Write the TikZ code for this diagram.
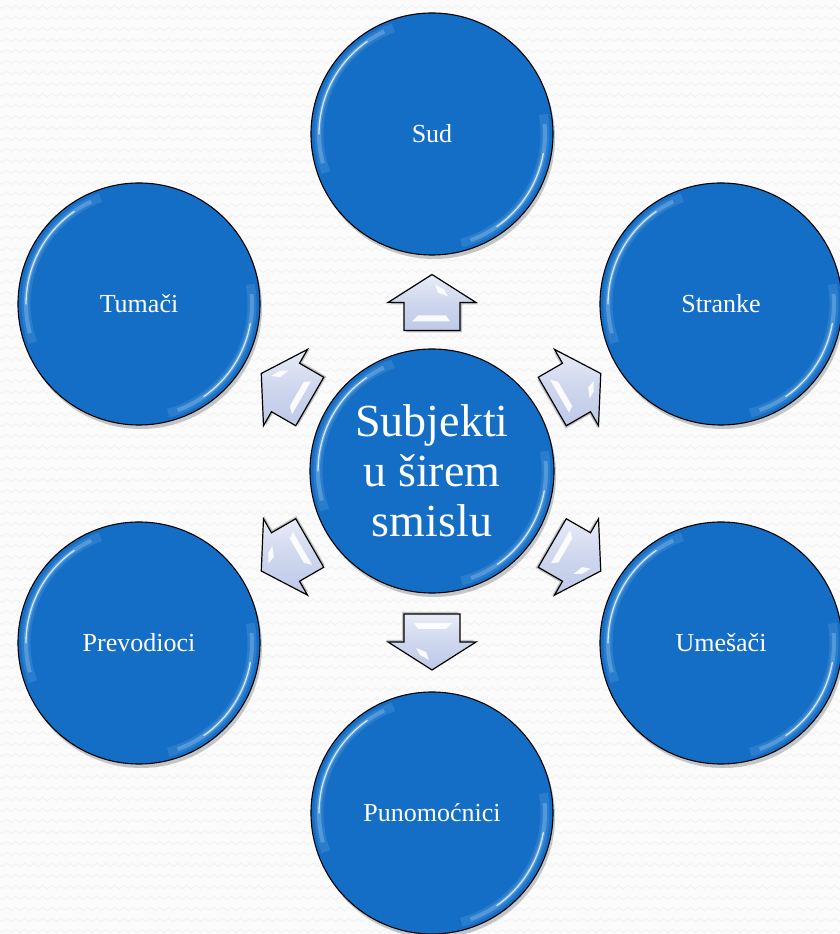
\documentclass[tikz,border=0pt]{standalone}
\usepackage{fontspec}
\setmainfont{Liberation Serif}
\usetikzlibrary{shadows,calc,decorations.pathmorphing}
\definecolor{circblue}{RGB}{20,110,198}
\definecolor{arrowfill}{RGB}{190,201,232}
\definecolor{bgbase}{RGB}{251,251,251}
\definecolor{bgwave}{RGB}{240,240,240}
\definecolor{glowblue}{RGB}{190,228,255}
\tikzset{
  bubble/.style={circle, draw=black, line width=1.1pt, fill=circblue, minimum size=242pt,
    inner sep=0pt, text=white, font=\fontsize{26}{30}\selectfont,
    drop shadow={shadow xshift=2pt, shadow yshift=-4pt, opacity=0.3, fill=black!70}},
  hub/.style={bubble, minimum size=244pt, font=\fontsize{46}{50}\selectfont, align=center},
  rimwide/.style={glowblue, opacity=0.13, line width=9pt, line cap=butt},
  rimglow/.style={glowblue, opacity=0.28, line width=4pt, line cap=butt},
  rimshine/.style={white, opacity=0.75, line width=1.3pt, line cap=round},
  pics/barrow/.style={code={
    \fill[black!50, opacity=0.45] (2,26) -- (46,-2) -- (30,-2) -- (30,-30) -- (-26,-30) -- (-26,-2) -- (-42,-2) -- cycle;
    \draw[black, line width=1.2pt, line join=miter, top color=arrowfill!35, bottom color=arrowfill, middle color=arrowfill!75]
      (0,28) -- (44,0) -- (28,0) -- (28,-28) -- (-28,-28) -- (-28,0) -- (-44,0) -- cycle;
    \fill[white, opacity=0.9] (3,18) -- (12,13) -- (16,6) -- (6,10) -- cycle;
    \fill[white, opacity=0.9] (-14,-13) -- (14,-13) -- (18,-19) -- (-20,-19) -- cycle;
  }}
}
\newcommand{\rimlights}[2]{%
  \draw[rimwide] ($(#1)+(110:#2)$) arc (110:200:#2);
  \draw[rimglow] ($(#1)+(115:#2)$) arc (115:195:#2);
  \draw[rimshine] ($(#1)+(125:#2)$) arc (125:180:#2);
  \draw[rimwide] ($(#1)+(285:#2)$) arc (285:370:#2);
  \draw[rimglow] ($(#1)+(290:#2)$) arc (290:365:#2);
  \draw[rimshine] ($(#1)+(305:#2)$) arc (305:350:#2);
}
\begin{document}
\begin{tikzpicture}[x=1pt,y=1pt]
  \useasboundingbox (0,0) rectangle (840,934);
  \fill[bgbase] (0,0) rectangle (840,934);
  \begin{scope}
    \clip (0,0) rectangle (840,934);
    \foreach \y in {3,14,...,940}
      \draw[bgwave, line width=0.7pt, decorate, decoration={snake, segment length=9pt, amplitude=1.6pt}] (-5,\y) -- (850,\y);
  \end{scope}

  % nodes
  \node[hub] (c) at (432,463) {Subjekti\\u širem\\smislu};
  \node[bubble] (sud) at (432,800) {Sud};
  \node[bubble] (str) at (721,630) {Stranke};
  \node[bubble] (tum) at (139,630) {Tumači};
  \node[bubble] (ume) at (721,291) {Umešači};
  \node[bubble] (pre) at (139,291) {Prevodioci};
  \node[bubble] (pun) at (432,121) {Punomoćnici};

  \rimlights{c}{114}
  \foreach \n in {sud,str,tum,ume,pre,pun} { \rimlights{\n}{113} }

  % block arrows
  \pic[rotate=0]    at ($(c)!0.5!(sud)$) {barrow};
  \pic[rotate=-60]  at ($(c)!0.5!(str)$) {barrow};
  \pic[rotate=-120] at ($(c)!0.5!(ume)$) {barrow};
  \pic[rotate=180]  at ($(c)!0.5!(pun)$) {barrow};
  \pic[rotate=120]  at ($(c)!0.5!(pre)$) {barrow};
  \pic[rotate=60]   at ($(c)!0.5!(tum)$) {barrow};
\end{tikzpicture}
\end{document}
